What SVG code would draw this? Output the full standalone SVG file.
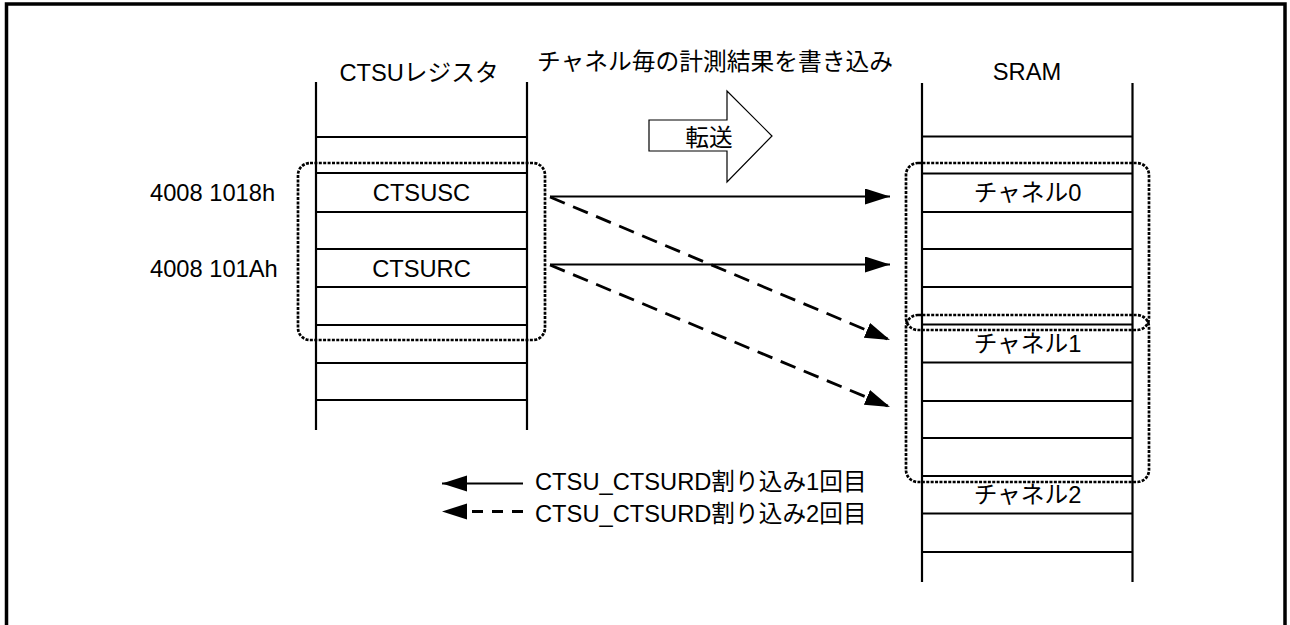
<svg xmlns="http://www.w3.org/2000/svg" width="1290" height="625" viewBox="0 0 1290 625">
<defs>
<style>
text{font-family:"Liberation Sans","Noto Sans CJK JP",sans-serif;font-size:23.7px;fill:#000}
.c{text-anchor:middle}
.col{stroke:#000;stroke-width:2.2;fill:none}
.dot{stroke:#000;stroke-width:2.7;fill:none;stroke-dasharray:3 1.4}
.sol{stroke:#000;stroke-width:2;fill:none}
.dsh{stroke:#000;stroke-width:2.8;fill:none;stroke-dasharray:16 9}
</style>
<marker id="ah" markerUnits="userSpaceOnUse" markerWidth="26" markerHeight="18" refX="25" refY="8" orient="auto">
<path d="M0,0 L25,8 L0,16 z" fill="#000"/>
</marker>
</defs>
<rect x="0" y="0" width="1290" height="625" fill="#fff"/>
<rect x="6.5" y="4" width="1278.5" height="700" fill="none" stroke="#000" stroke-width="3.5"/>

<text class="c" x="715" y="70" textLength="356" lengthAdjust="spacingAndGlyphs">チャネル毎の計測結果を書き込み</text>

<g id="ctsu-register">
<text class="c" x="419" y="81">CTSUレジスタ</text>
<path class="col" d="M316,82V430M527,82V430M316,137H527M316,173H527M316,212H527M316,249H527M316,287H527M316,325H527M316,363H527M316,400H527"/>
<text class="c" x="421.5" y="201">CTSUSC</text>
<text class="c" x="421.5" y="276.5">CTSURC</text>
<text x="150" y="201">4008 1018h</text>
<text x="150" y="276.5">4008 101Ah</text>
</g>

<g id="sram">
<text class="c" x="1027" y="80">SRAM</text>
<path class="col" d="M922,83V582M1132.5,83V582M922,136.5H1132.5M922,173.5H1132.5M922,212H1132.5M922,249H1132.5M922,287H1132.5M922,324.5H1132.5M922,362.5H1132.5M922,401H1132.5M922,438H1132.5M922,476H1132.5M922,513.5H1132.5M922,552H1132.5"/>
<text class="c" x="1027.5" y="201">チャネル0</text>
<text class="c" x="1027.5" y="352">チャネル1</text>
<text class="c" x="1027.5" y="503">チャネル2</text>
</g>

<g id="transfer">
<polygon points="649,120 727,120 727,91 772,136 727,182 727,151 649,151" fill="#fff" stroke="#000" stroke-width="1.2"/>
<text class="c" x="709" y="146">転送</text>
</g>

<g id="groups">
<rect class="dot" x="298" y="163" width="247" height="177" rx="12"/>
<rect class="dot" x="906" y="163" width="243" height="167" rx="12"/>
<rect class="dot" x="906" y="315" width="243" height="167" rx="12"/>
</g>

<g id="connectors">
<line class="sol" x1="550" y1="196.5" x2="890" y2="196.5" marker-end="url(#ah)"/>
<line class="sol" x1="550" y1="264.5" x2="890" y2="264.5" marker-end="url(#ah)"/>
<line class="dsh" x1="550" y1="197" x2="890" y2="340" marker-end="url(#ah)"/>
<line class="dsh" x1="550" y1="265" x2="890" y2="407" marker-end="url(#ah)"/>
</g>

<g id="legend">
<line class="sol" x1="523" y1="483.5" x2="442" y2="483.5" marker-end="url(#ah)"/>
<path d="M523,511.5H466" stroke="#000" stroke-width="2.8" stroke-dasharray="11 9"/>
<path d="M442,511.5 L467,503.5 L467,519.5 z" fill="#000"/>
<text x="535" y="490">CTSU_CTSURD割り込み1回目</text>
<text x="535" y="521.5">CTSU_CTSURD割り込み2回目</text>
</g>
</svg>
